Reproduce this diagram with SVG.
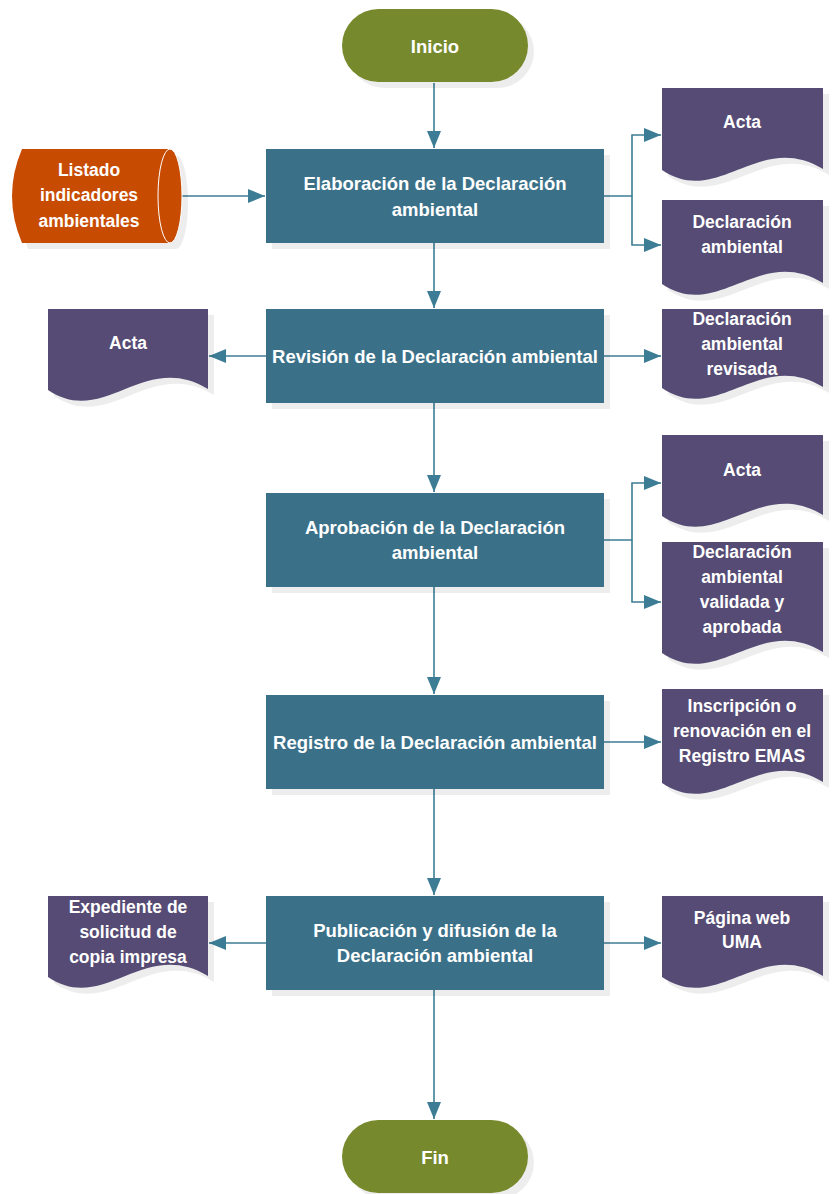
<svg xmlns="http://www.w3.org/2000/svg" width="833" height="1194" viewBox="0 0 833 1194">
<style>
.t{font-family:"Liberation Sans",Arial,sans-serif;font-weight:bold;font-size:17.5px;fill:#ffffff;text-anchor:middle;dominant-baseline:central}
.bt{font-size:18.5px}
.box{fill:#3A7189}
.doc{fill:#554B74}
.term{fill:#76892C}
.sh{fill:#000;opacity:0.07}
.c{fill:none;stroke:#3C7D95;stroke-width:1.6}
</style>
<defs>
<marker id="ah" markerUnits="userSpaceOnUse" markerWidth="18" markerHeight="16" refX="17" refY="7" orient="auto">
<path d="M0,0 L17,7 L0,14 Z" fill="#3C7D95"/>
</marker>
</defs>
<rect width="833" height="1194" fill="#ffffff"/>

<g id="connectors">
<path class="c" d="M434,83 V148" marker-end="url(#ah)"/>
<path class="c" d="M168,196 H265" marker-end="url(#ah)"/>
<path class="c" d="M434,243 V308" marker-end="url(#ah)"/>
<path class="c" d="M604,196 H632 V135 H661" marker-end="url(#ah)"/>
<path class="c" d="M632,196 V245 H661" marker-end="url(#ah)"/>
<path class="c" d="M266,356 H209" marker-end="url(#ah)"/>
<path class="c" d="M604,356 H661" marker-end="url(#ah)"/>
<path class="c" d="M434,403 V492" marker-end="url(#ah)"/>
<path class="c" d="M604,540 H632 V483 H661" marker-end="url(#ah)"/>
<path class="c" d="M632,540 V602 H661" marker-end="url(#ah)"/>
<path class="c" d="M434,587 V694" marker-end="url(#ah)"/>
<path class="c" d="M604,742 H661" marker-end="url(#ah)"/>
<path class="c" d="M434,789 V895" marker-end="url(#ah)"/>
<path class="c" d="M266,943 H209" marker-end="url(#ah)"/>
<path class="c" d="M604,943 H661" marker-end="url(#ah)"/>
<path class="c" d="M434,990 V1119" marker-end="url(#ah)"/>
</g>

<g id="inicio">
<rect class="sh" x="348" y="15" width="186" height="73" rx="36.5"/>
<rect class="term" x="342" y="9" width="186" height="73" rx="36.5"/>
<text class="t bt" x="435" y="46">Inicio</text>
</g>

<g id="listado">
<path class="sh" transform="translate(6,6)" d="M22,149 H170 A12,47 0 0 1 170,243 H22 Q2,196 22,149 Z"/>
<path fill="#C84B02" d="M22,149 H170 A12,47 0 0 1 170,243 H22 Q2,196 22,149 Z"/>
<ellipse cx="170" cy="196" rx="12" ry="47" fill="none" stroke="#ffffff" stroke-width="1"/>
<text class="t" x="89" y="170">Listado</text>
<text class="t" x="89" y="195">indicadores</text>
<text class="t" x="89" y="221">ambientales</text>
</g>

<g id="elaboracion">
<rect class="sh" x="272" y="155" width="338" height="94"/>
<rect class="box" x="266" y="149" width="338" height="94"/>
<text class="t bt" x="435" y="183">Elaboración de la Declaración</text>
<text class="t bt" x="435" y="209">ambiental</text>
</g>

<g id="acta1">
<path class="sh" transform="translate(6,6)" d="M662,88 H823 V169 C759,130 718,208 662,170 Z"/>
<path class="doc" d="M662,88 H823 V169 C759,130 718,208 662,170 Z"/>
<text class="t" x="742" y="122">Acta</text>
</g>

<g id="declaracion1">
<path class="sh" transform="translate(6,6)" d="M662,200 H823 V283 C759,244 718,322 662,284 Z"/>
<path class="doc" d="M662,200 H823 V283 C759,244 718,322 662,284 Z"/>
<text class="t" x="742" y="222">Declaración</text>
<text class="t" x="742" y="247">ambiental</text>
</g>

<g id="revision">
<rect class="sh" x="272" y="315" width="338" height="94"/>
<rect class="box" x="266" y="309" width="338" height="94"/>
<text class="t bt" x="435" y="356">Revisión de la Declaración ambiental</text>
</g>

<g id="acta2">
<path class="sh" transform="translate(6,6)" d="M48,309 H208 V389 C144,350 104,428 48,390 Z"/>
<path class="doc" d="M48,309 H208 V389 C144,350 104,428 48,390 Z"/>
<text class="t" x="128" y="343">Acta</text>
</g>

<g id="declaracion2">
<path class="sh" transform="translate(6,6)" d="M662,309 H823 V387 C759,348 718,426 662,388 Z"/>
<path class="doc" d="M662,309 H823 V387 C759,348 718,426 662,388 Z"/>
<text class="t" x="742" y="319">Declaración</text>
<text class="t" x="742" y="344">ambiental</text>
<text class="t" x="742" y="369">revisada</text>
</g>

<g id="aprobacion">
<rect class="sh" x="272" y="499" width="338" height="94"/>
<rect class="box" x="266" y="493" width="338" height="94"/>
<text class="t bt" x="435" y="527">Aprobación de la Declaración</text>
<text class="t bt" x="435" y="552">ambiental</text>
</g>

<g id="acta3">
<path class="sh" transform="translate(6,6)" d="M662,435 H823 V515 C759,476 718,554 662,516 Z"/>
<path class="doc" d="M662,435 H823 V515 C759,476 718,554 662,516 Z"/>
<text class="t" x="742" y="470">Acta</text>
</g>

<g id="declaracion3">
<path class="sh" transform="translate(6,6)" d="M662,542 H823 V652 C759,613 718,691 662,653 Z"/>
<path class="doc" d="M662,542 H823 V652 C759,613 718,691 662,653 Z"/>
<text class="t" x="742" y="552">Declaración</text>
<text class="t" x="742" y="577">ambiental</text>
<text class="t" x="742" y="602">validada y</text>
<text class="t" x="742" y="627">aprobada</text>
</g>

<g id="registro">
<rect class="sh" x="272" y="701" width="338" height="94"/>
<rect class="box" x="266" y="695" width="338" height="94"/>
<text class="t bt" x="435" y="742">Registro de la Declaración ambiental</text>
</g>

<g id="inscripcion">
<path class="sh" transform="translate(6,6)" d="M662,689 H823 V782 C759,743 718,821 662,783 Z"/>
<path class="doc" d="M662,689 H823 V782 C759,743 718,821 662,783 Z"/>
<text class="t" x="742" y="706">Inscripción o</text>
<text class="t" x="742" y="731">renovación en el</text>
<text class="t" x="742" y="756">Registro EMAS</text>
</g>

<g id="publicacion">
<rect class="sh" x="272" y="902" width="338" height="94"/>
<rect class="box" x="266" y="896" width="338" height="94"/>
<text class="t bt" x="435" y="930">Publicación y difusión de la</text>
<text class="t bt" x="435" y="955">Declaración ambiental</text>
</g>

<g id="expediente">
<path class="sh" transform="translate(6,6)" d="M48,896 H208 V976 C144,937 104,1015 48,977 Z"/>
<path class="doc" d="M48,896 H208 V976 C144,937 104,1015 48,977 Z"/>
<text class="t" x="128" y="907">Expediente de</text>
<text class="t" x="128" y="932">solicitud de</text>
<text class="t" x="128" y="957">copia impresa</text>
</g>

<g id="pagina">
<path class="sh" transform="translate(6,6)" d="M662,896 H823 V976 C759,937 718,1015 662,977 Z"/>
<path class="doc" d="M662,896 H823 V976 C759,937 718,1015 662,977 Z"/>
<text class="t" x="742" y="918">Página web</text>
<text class="t" x="742" y="942">UMA</text>
</g>

<g id="fin">
<rect class="sh" x="348" y="1126" width="186" height="73" rx="36.5"/>
<rect class="term" x="342" y="1120" width="186" height="73" rx="36.5"/>
<text class="t bt" x="435" y="1157">Fin</text>
</g>
</svg>
